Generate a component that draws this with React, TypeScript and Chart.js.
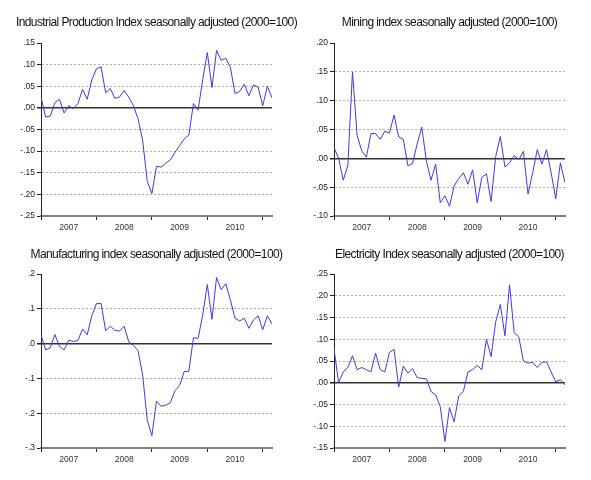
import React, { useEffect, useRef } from "react";
import { Chart, registerables } from "chart.js";

Chart.register(...registerables);

const years = ["2007", "2008", "2009", "2010"];
const months: string[] = [];
for (let y = 2007; y <= 2011; y++) for (let m = 1; m <= 12; m++) months.push(`${y}M${m}`);
const monthLabels = months.slice(0, 51);

const industrial = [
  0.025, -0.021, -0.019, 0.012, 0.02, -0.012, 0.005, -0.002, 0.01, 0.043,
  0.02, 0.065, 0.09, 0.095, 0.035, 0.045, 0.022, 0.025, 0.04, 0.025,
  0.005, -0.025, -0.075, -0.17, -0.198, -0.135, -0.137, -0.128, -0.12, -0.103,
  -0.087, -0.072, -0.063, 0.01, -0.005, 0.065, 0.128, 0.047, 0.133, 0.11,
  0.115, 0.093, 0.033, 0.038, 0.055, 0.028, 0.053, 0.048, 0.005, 0.05, 0.023,
];
const mining = [
  0.019, 0.0, -0.038, -0.012, 0.15, 0.04, 0.013, 0.002, 0.043, 0.043,
  0.033, 0.047, 0.044, 0.075, 0.037, 0.033, -0.013, -0.009, 0.025, 0.054,
  -0.005, -0.038, -0.01, -0.077, -0.065, -0.083, -0.048, -0.035, -0.025, -0.045,
  -0.02, -0.077, -0.033, -0.027, -0.075, 0.003, 0.038, -0.015, -0.008, 0.005,
  -0.002, 0.012, -0.062, -0.025, 0.015, -0.01, 0.015, -0.025, -0.07, -0.008, -0.042,
];
const manufacturing = [
  0.025, -0.018, -0.012, 0.026, -0.008, -0.018, 0.01, 0.006, 0.009, 0.042,
  0.025, 0.08, 0.115, 0.115, 0.037, 0.05, 0.038, 0.036, 0.05, 0.005,
  -0.005, -0.02, -0.09, -0.22, -0.265, -0.165, -0.18, -0.177, -0.17, -0.135,
  -0.12, -0.08, -0.08, 0.017, 0.015, 0.082, 0.17, 0.07, 0.19, 0.155,
  0.172, 0.125, 0.073, 0.065, 0.073, 0.044, 0.068, 0.08, 0.04, 0.08, 0.056,
];
const electricity = [
  0.078, 0.0, 0.025, 0.035, 0.062, 0.03, 0.035, 0.03, 0.025, 0.068,
  0.03, 0.025, 0.07, 0.077, -0.01, 0.038, 0.022, 0.032, 0.012, 0.01,
  0.009, -0.02, -0.028, -0.055, -0.135, -0.057, -0.09, -0.03, -0.02, 0.025,
  0.03, 0.04, 0.03, 0.1, 0.06, 0.14, 0.18, 0.108, 0.225, 0.115,
  0.105, 0.05, 0.045, 0.047, 0.035, 0.047, 0.048, 0.025, 0.002, 0.007, -0.005,
];

const titles = [
  "Industrial Production Index seasonally adjusted (2000=100)",
  "Mining index seasonally adjusted (2000=100)",
  "Manufacturing index seasonally adjusted (2000=100)",
  "Electricity Index seasonally adjusted (2000=100)",
];

type Panel = {
  title: string;
  data: number[];
  yMin: number;
  yMax: number;
  yStep: number;
  decimals: number;
  left: number;
  top: number;
  width: number;
  height: number;
  yW: number;
  xH: number;
  padR: number;
  padT: number;
  titleY: number;
};

const panels: Panel[] = [
  { title: titles[0], data: industrial, yMin: -0.25, yMax: 0.15, yStep: 0.05, decimals: 2,
    left: 0, top: 0, width: 300, height: 240, yW: 41, xH: 24, padR: 28, padT: 43, titleY: 23 },
  { title: titles[1], data: mining, yMin: -0.1, yMax: 0.2, yStep: 0.05, decimals: 2,
    left: 295, top: 0, width: 296, height: 240, yW: 39, xH: 24, padR: 26, padT: 43, titleY: 23 },
  { title: titles[2], data: manufacturing, yMin: -0.3, yMax: 0.2, yStep: 0.1, decimals: 1,
    left: 0, top: 240, width: 300, height: 240, yW: 41, xH: 32, padR: 28, padT: 34, titleY: 15 },
  { title: titles[3], data: electricity, yMin: -0.15, yMax: 0.25, yStep: 0.05, decimals: 2,
    left: 295, top: 240, width: 296, height: 240, yW: 39, xH: 32, padR: 26, padT: 34, titleY: 15 },
];

const FONT = "'Liberation Sans', Arial, sans-serif";

function fmt(v: number, d: number) {
  if (Math.abs(v) < 1e-9) v = 0;
  return v.toFixed(d).replace(/^(-?)0\./, "$1.");
}

const titlePlugin = {
  id: "panelTitle",
  afterDraw(chart: any, _args: any, opts: any) {
    const { ctx, chartArea } = chart;
    ctx.save();
    ctx.font = `12px ${FONT}`;
    ctx.fillStyle = "#111";
    ctx.textAlign = "center";
    ctx.textBaseline = "middle";
    try {
      (ctx as any).letterSpacing = "-0.6px";
    } catch (e) {}
    ctx.fillText(opts.text, (chartArea.left + chartArea.right) / 2, opts.y);
    ctx.restore();
  },
};

function PanelChart({ p }: { p: Panel }) {
  const ref = useRef<HTMLCanvasElement | null>(null);
  useEffect(() => {
    if (!ref.current) return;
    const chart = new Chart(ref.current, {
      type: "line",
      data: {
        labels: monthLabels,
        datasets: [
          {
            data: p.data.map((v, i) => ({ x: i, y: v })),
            borderColor: "#3a3af2",
            borderWidth: 1,
            pointRadius: 0,
            tension: 0,
            fill: false,
          },
        ],
      },
      plugins: [titlePlugin],
      options: {
        animation: false,
        responsive: false,
        maintainAspectRatio: false,
        layout: { padding: { top: p.padT, right: p.padR, bottom: 0, left: 0 } },
        plugins: {
          legend: { display: false },
          tooltip: { enabled: false },
          title: { display: false },
          panelTitle: { text: p.title, y: p.titleY },
        },
        scales: {
          x: {
            type: "linear",
            min: 0,
            max: monthLabels.length - 1,
            afterBuildTicks: (scale: any) => {
              const t = [];
              for (let v = 0; v <= 48; v += 6) t.push({ value: v });
              scale.ticks = t;
            },
            afterFit: (scale: any) => {
              scale.height = p.xH;
            },
            ticks: {
              autoSkip: false,
              maxRotation: 0,
              padding: 3,
              color: "#333",
              font: { family: FONT, size: 8.5 },
              callback: (v: any) => {
                const n = Number(v);
                if (n % 12 === 6) return years[(n - 6) / 12] ?? "";
                return "";
              },
            },
            grid: {
              drawOnChartArea: false,
              drawTicks: true,
              tickLength: 4,
              tickColor: (ctx: any) => (ctx.tick && ctx.tick.value % 12 === 0 ? "#222" : "rgba(0,0,0,0)"),
            },
            border: { display: true, color: "#808080", width: 2 },
          },
          y: {
            type: "linear",
            min: p.yMin,
            max: p.yMax,
            afterFit: (scale: any) => {
              scale.width = p.yW;
            },
            ticks: {
              stepSize: p.yStep,
              padding: 2,
              color: "#222",
              font: { family: FONT, size: 8.5 },
              callback: (v: any) => fmt(Number(v), p.decimals),
            },
            grid: {
              drawOnChartArea: true,
              drawTicks: true,
              tickLength: 4,
              tickColor: "#222",
              color: (ctx: any) => {
                const n = ctx.scale.ticks.length;
                if (ctx.index === 0 || ctx.index === n - 1) return "rgba(0,0,0,0)";
                if (ctx.tick && Math.abs(ctx.tick.value) < 1e-9) return "#333";
                return "#b0b0b0";
              },
              lineWidth: (ctx: any) => (ctx.tick && Math.abs(ctx.tick.value) < 1e-9 ? 1.5 : 1),
            },
            border: {
              display: true,
              color: "#222",
              width: 1,
              dash: (ctx: any) => (ctx && ctx.tick && Math.abs(ctx.tick.value) < 1e-9 ? [] : [2, 2]),
            },
          },
        },
      } as any,
    });
    return () => chart.destroy();
  }, [p]);
  return (
    <canvas
      ref={ref}
      width={p.width}
      height={p.height}
      style={{ position: "absolute", left: p.left, top: p.top, width: p.width, height: p.height }}
    />
  );
}

export default function App() {
  return (
    <div style={{ position: "absolute", left: 0, top: 0, width: 591, height: 480, background: "#fff" }}>
      {panels.map((p, i) => (
        <PanelChart key={i} p={p} />
      ))}
    </div>
  );
}
